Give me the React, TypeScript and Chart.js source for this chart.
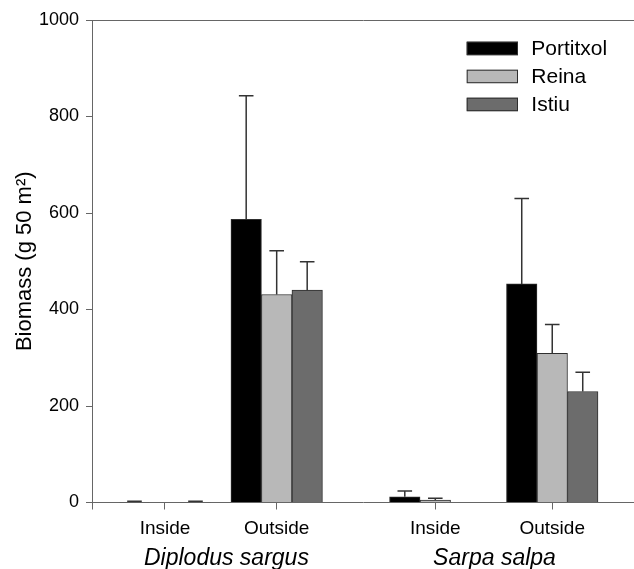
import React, { useEffect, useRef } from 'react';
import { Chart, registerables } from 'chart.js';

Chart.register(...registerables);

// ---- data ----
const CATEGORIES = ['Inside', 'Outside', 'Inside', 'Outside'];
const SPECIES = ['Diplodus sargus', 'Sarpa salpa'];
const SITES = ['Portitxol', 'Reina', 'Istiu'];
const PORTITXOL = [1, 587, 12, 453];
const PORTITXOL_SE = [1.5, 256, 12, 177];
const REINA = [0, 431, 5, 309];
const REINA_SE = [0, 91, 4, 60];
const ISTIU = [1, 440, 0, 230];
const ISTIU_SE = [1.5, 59, 0, 40];
const Y_TICKS = [0, 200, 400, 600, 800, 1000];
const Y_TITLE = 'Biomass (g 50 m²)';

// ---- layout (positions on the x scale) ----
const GROUP_POS = [1, 2, 3.42, 4.467];
const SPECIES_POS = [1.55, 3.95];
const X_MIN = 0.351;
const X_MAX = 5.199;

const FONT = "'Liberation Sans', Arial, Helvetica, sans-serif";
const AXIS_COLOR = '#666666';
const FILLS = ['#000000', '#b8b8b8', '#6c6c6c'];
const BORDER = '#2e2e2e';

const errorBarsPlugin = {
  id: 'errorBars',
  afterDatasetsDraw(chart: any) {
    const ctx = chart.ctx;
    const yScale = chart.scales.y;
    chart.data.datasets.forEach((ds: any, di: number) => {
      const meta = chart.getDatasetMeta(di);
      meta.data.forEach((bar: any, i: number) => {
        const e = ds.errors[i];
        if (!e) return;
        const v = ds.data[i].y;
        const yTop = yScale.getPixelForValue(v);
        const yErr = yScale.getPixelForValue(v + e);
        const x = bar.x;
        ctx.save();
        ctx.strokeStyle = '#333333';
        ctx.lineWidth = 1.5;
        ctx.beginPath();
        ctx.moveTo(x, yTop);
        ctx.lineTo(x, yErr);
        ctx.moveTo(x - 7.3, yErr);
        ctx.lineTo(x + 7.3, yErr);
        ctx.stroke();
        ctx.restore();
      });
    });
  },
};

const legendPlugin = {
  id: 'insideLegend',
  afterDraw(chart: any) {
    const ctx = chart.ctx;
    const x0 = 466.7;
    const y0 = 41.7;
    const w = 51.3;
    const h = 13.5;
    const pitch = 28;
    ctx.save();
    chart.data.datasets.forEach((ds: any, i: number) => {
      const y = y0 + i * pitch;
      ctx.fillStyle = ds.backgroundColor;
      ctx.fillRect(x0, y, w, h);
      ctx.strokeStyle = BORDER;
      ctx.lineWidth = 1;
      ctx.strokeRect(x0 + 0.5, y + 0.5, w - 1, h - 1);
      ctx.fillStyle = '#000000';
      ctx.font = `21px ${FONT}`;
      ctx.textBaseline = 'middle';
      ctx.textAlign = 'left';
      ctx.fillText(ds.label, x0 + w + 13.3, y + h / 2 + 0.5);
    });
    ctx.restore();
  },
};

export default function App() {
  const ref = useRef<HTMLCanvasElement | null>(null);

  useEffect(() => {
    if (!ref.current) return;
    const values = [PORTITXOL, REINA, ISTIU];
    const errors = [PORTITXOL_SE, REINA_SE, ISTIU_SE];
    const chart = new Chart(ref.current, {
      type: 'bar',
      data: {
        datasets: SITES.map((label, si) => ({
          label,
          data: values[si].map((v, i) => ({ x: GROUP_POS[i], y: v })),
          errors: errors[si],
          backgroundColor: FILLS[si],
          borderColor: BORDER,
          borderWidth: 1,
          barThickness: 30.5,
        })) as any,
      },
      options: {
        animation: false,
        responsive: false,
        events: [],
        layout: { padding: { top: 20, left: 0, right: 0, bottom: 0 } },
        plugins: {
          legend: { display: false },
          tooltip: { enabled: false },
        },
        scales: {
          x: {
            type: 'linear',
            position: 'bottom',
            weight: 0,
            min: X_MIN,
            max: X_MAX,
            offset: false,
            afterBuildTicks: (scale: any) => {
              scale.ticks = [X_MIN, ...GROUP_POS].map((v) => ({ value: v }));
            },
            afterFit: (scale: any) => {
              scale.height = 36;
            },
            ticks: {
              autoSkip: false,
              maxRotation: 0,
              padding: 10,
              color: '#000000',
              font: { family: FONT, size: 19, lineHeight: 1 },
              callback: (_v: any, i: number) => (i === 0 ? '' : CATEGORIES[i - 1]),
            },
            grid: {
              display: true,
              offset: false,
              drawOnChartArea: false,
              drawTicks: true,
              tickLength: 7,
              color: AXIS_COLOR,
              tickColor: AXIS_COLOR,
            },
            border: { display: true, color: AXIS_COLOR, width: 1 },
          },
          x2: {
            type: 'linear',
            position: 'bottom',
            weight: 1,
            min: X_MIN,
            max: X_MAX,
            offset: false,
            afterBuildTicks: (scale: any) => {
              scale.ticks = SPECIES_POS.map((v) => ({ value: v }));
            },
            afterFit: (scale: any) => {
              scale.height = 30.5;
            },
            ticks: {
              autoSkip: false,
              maxRotation: 0,
              padding: 8.5,
              color: '#000000',
              font: { family: FONT, size: 23, style: 'italic', lineHeight: 1 },
              callback: (_v: any, i: number) => SPECIES[i],
            },
            grid: { display: false, drawTicks: false, offset: false },
            border: { display: false },
          },
          y: {
            type: 'linear',
            min: 0,
            max: 1000,
            afterBuildTicks: (scale: any) => {
              scale.ticks = Y_TICKS.map((v) => ({ value: v }));
            },
            afterFit: (scale: any) => {
              scale.width = 92.5;
            },
            ticks: {
              padding: 7,
              color: '#000000',
              font: { family: FONT, size: 18 },
              callback: (v: any) => String(v),
            },
            grid: {
              display: true,
              drawOnChartArea: true,
              drawTicks: true,
              tickLength: 6.5,
              color: (c: any) => (c.tick && c.tick.value === 1000 ? AXIS_COLOR : 'rgba(0,0,0,0)'),
              tickColor: AXIS_COLOR,
            },
            border: { display: true, color: AXIS_COLOR, width: 1 },
            title: {
              display: true,
              text: Y_TITLE,
              color: '#000000',
              font: { family: FONT, size: 22 },
              padding: { top: 11.8, bottom: 0 },
            },
          },
        },
      } as any,
      plugins: [errorBarsPlugin, legendPlugin],
    });
    return () => chart.destroy();
  }, []);

  return (
    <div style={{ position: 'absolute', left: 0, top: 0, width: 634, height: 569, background: '#ffffff' }}>
      <canvas ref={ref} width={634} height={569} style={{ display: 'block' }} />
    </div>
  );
}
